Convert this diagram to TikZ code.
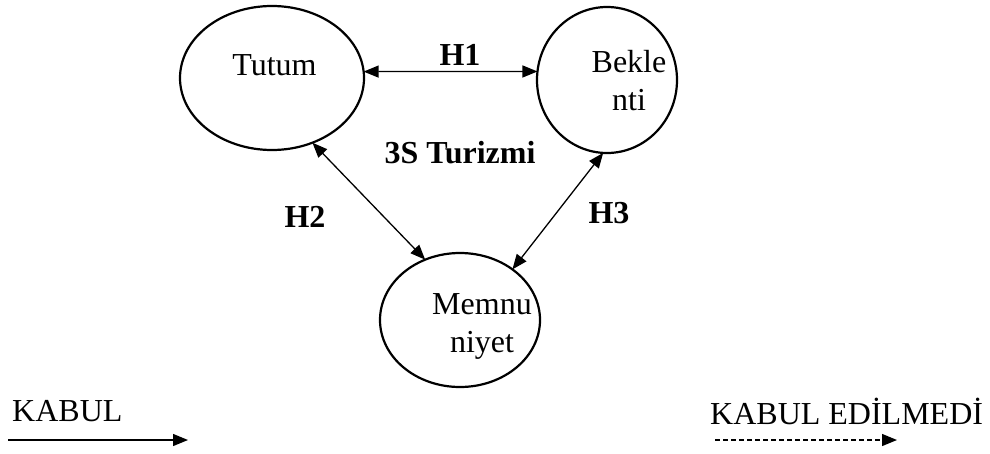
\documentclass[tikz,border=0pt]{standalone}
\usepackage{fontspec}
\setmainfont{Liberation Serif}
\usetikzlibrary{shapes.geometric,arrows.meta}
\begin{document}
\begin{tikzpicture}[x=1pt,y=-1pt,
  oval/.style={draw,ellipse,line width=2.2pt,inner sep=0pt,outer sep=0pt},
  txt/.style={font=\fontsize{32}{38}\selectfont,inner sep=0pt,align=center},
  btxt/.style={font=\fontsize{32}{38}\selectfont\bfseries,inner sep=0pt},
  link/.style={line width=1.3pt,{Triangle[length=15pt,width=12pt]}-{Triangle[length=15pt,width=12pt]}},
  legarrow/.style={line width=1.3pt,-{Triangle[length=15pt,width=12pt]}}]
\useasboundingbox (0,0) rectangle (990,453);
\node[oval,minimum width=184pt,minimum height=144pt] (tutum) at (272,78) {};
\node[oval,minimum width=140pt,minimum height=146pt] (bek) at (607,80) {};
\node[oval,minimum width=160pt,minimum height=134pt] (mem) at (460,320) {};
\node[txt] (tutumt) at (274.5,65) {Tutum};
\node[txt] (bekt) at (629,81) {Bekle\\nti};
\node[txt] (memt) at (482,326) {Memnu\\niyet};
\draw[link] (tutum.4) -- (bek.173);
\draw[link] (tutum.-58) -- (mem.120);
\draw[link] (bek.-93) -- (mem.44);
\node[btxt] (h1) at (460,55) {H1};
\node[btxt] (ts) at (460,153) {3S Turizmi};
\node[btxt] (h2) at (305,217) {H2};
\node[btxt] (h3) at (609,213) {H3};
\node[txt,anchor=west] (kabul) at (12,411) {KABUL};
\node[txt,anchor=west] (kabulno) at (710,411) {KABUL EDİLMEDİ};
\coordinate (a1) at (8,440);
\coordinate (a2) at (188,440);
\coordinate (b1) at (715,440);
\coordinate (b2) at (897,440);
\draw[legarrow] (a1) -- (a2);
\draw[legarrow,dash pattern=on 5pt off 3pt] (b1) -- (b2);
\end{tikzpicture}
\end{document}
